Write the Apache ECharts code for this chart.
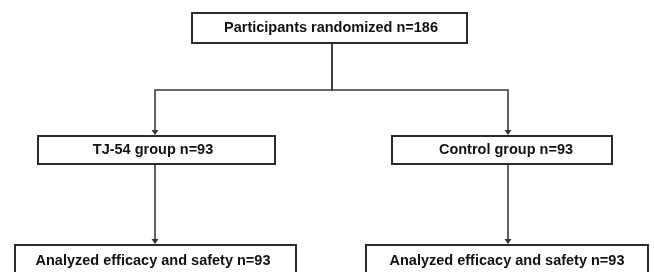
<!DOCTYPE html>
<html lang="en">
<head>
<meta charset="UTF-8">
<title>Flow diagram</title>
<script src="https://cdn.jsdelivr.net/npm/echarts@6/dist/echarts.min.js"></script>
<style>
  html, body { margin: 0; padding: 0; background: #fff; }
  #main { width: 654px; height: 272px; }
</style>
</head>
<body>
<div id="main"></div>
<script>
// flow chart content
const stages = ['Participants randomized', 'TJ-54 group', 'Control group',
                'Analyzed efficacy and safety', 'Analyzed efficacy and safety'];
const counts = [186, 93, 93, 93, 93];
// which box leads to which
const links = [[0, 1], [0, 2], [1, 3], [2, 4]];

// layout in pixel-like axis units (x: 0..654, y: 0..272 going down)
const boxes = [
  [192, 13, 467, 43],
  [38, 136, 275, 164],
  [392, 136, 612, 164],
  [15, 245, 296, 290],
  [366, 245, 648, 290]
];
const anchorX = [332, 155, 508, 155, 508];
const textX = [331, 153, 506, 153, 507];
const branchY = 90;

let chart = echarts.init(document.getElementById('main'));

let boxData = stages.map((s, i) => [...boxes[i], s + ' n=' + counts[i]]);
let linkData = links.map(l => [l[0], l[1]]);

let option = {
  animation: false,
  grid: { left: 0, right: 0, top: 0, bottom: 0 },
  xAxis: { type: 'value', min: 0, max: 654, show: false },
  yAxis: { type: 'value', min: 0, max: 272, inverse: true, show: false },
  series: [
    {
      // connectors with arrowheads
      type: 'custom',
      clip: false,
      data: linkData,
      renderItem: function (params, api) {
        let from = api.value(0), to = api.value(1);
        let fb = boxes[from], tb = boxes[to];
        let pts;
        if (from === 0) {
          pts = [[anchorX[from], fb[3]], [anchorX[from], branchY], [anchorX[to], branchY], [anchorX[to], tb[1] - 2]];
        } else {
          pts = [[anchorX[from], fb[3]], [anchorX[to], tb[1] - 2]];
        }
        let px = pts.map(p => api.coord(p));
        let tip = px[px.length - 1];
        return {
          type: 'group',
          children: [
            {
              type: 'polyline',
              shape: { points: px },
              style: { stroke: '#3a3a3a', lineWidth: 1.6, fill: null }
            },
            {
              type: 'polygon',
              shape: { points: [[tip[0] - 3.5, tip[1] - 4], [tip[0] + 3.5, tip[1] - 4], [tip[0], tip[1] + 1]] },
              style: { fill: '#333' }
            }
          ]
        };
      }
    },
    {
      // boxes with labels
      type: 'custom',
      clip: false,
      data: boxData,
      renderItem: function (params, api) {
        let i = params.dataIndex;
        let p0 = api.coord([api.value(0), api.value(1)]);
        let p1 = api.coord([api.value(2), api.value(3)]);
        let label = boxData[i][4];
        let cy = i >= 3 ? api.coord([0, 261])[1] : (p0[1] + p1[1]) / 2;
        let cx = api.coord([textX[i], 0])[0];
        return {
          type: 'group',
          children: [
            {
              type: 'rect',
              shape: { x: p0[0], y: p0[1], width: p1[0] - p0[0], height: p1[1] - p0[1] },
              style: { fill: '#fff', stroke: '#2a2a2a', lineWidth: 2 }
            },
            {
              type: 'text',
              style: {
                x: cx, y: cy,
                text: label,
                align: 'center', verticalAlign: 'middle',
                font: 'bold 14.5px "Liberation Sans", Arial, sans-serif',
                fill: '#111'
              }
            }
          ]
        };
      }
    }
  ]
};

chart.setOption(option);
</script>
</body>
</html>
